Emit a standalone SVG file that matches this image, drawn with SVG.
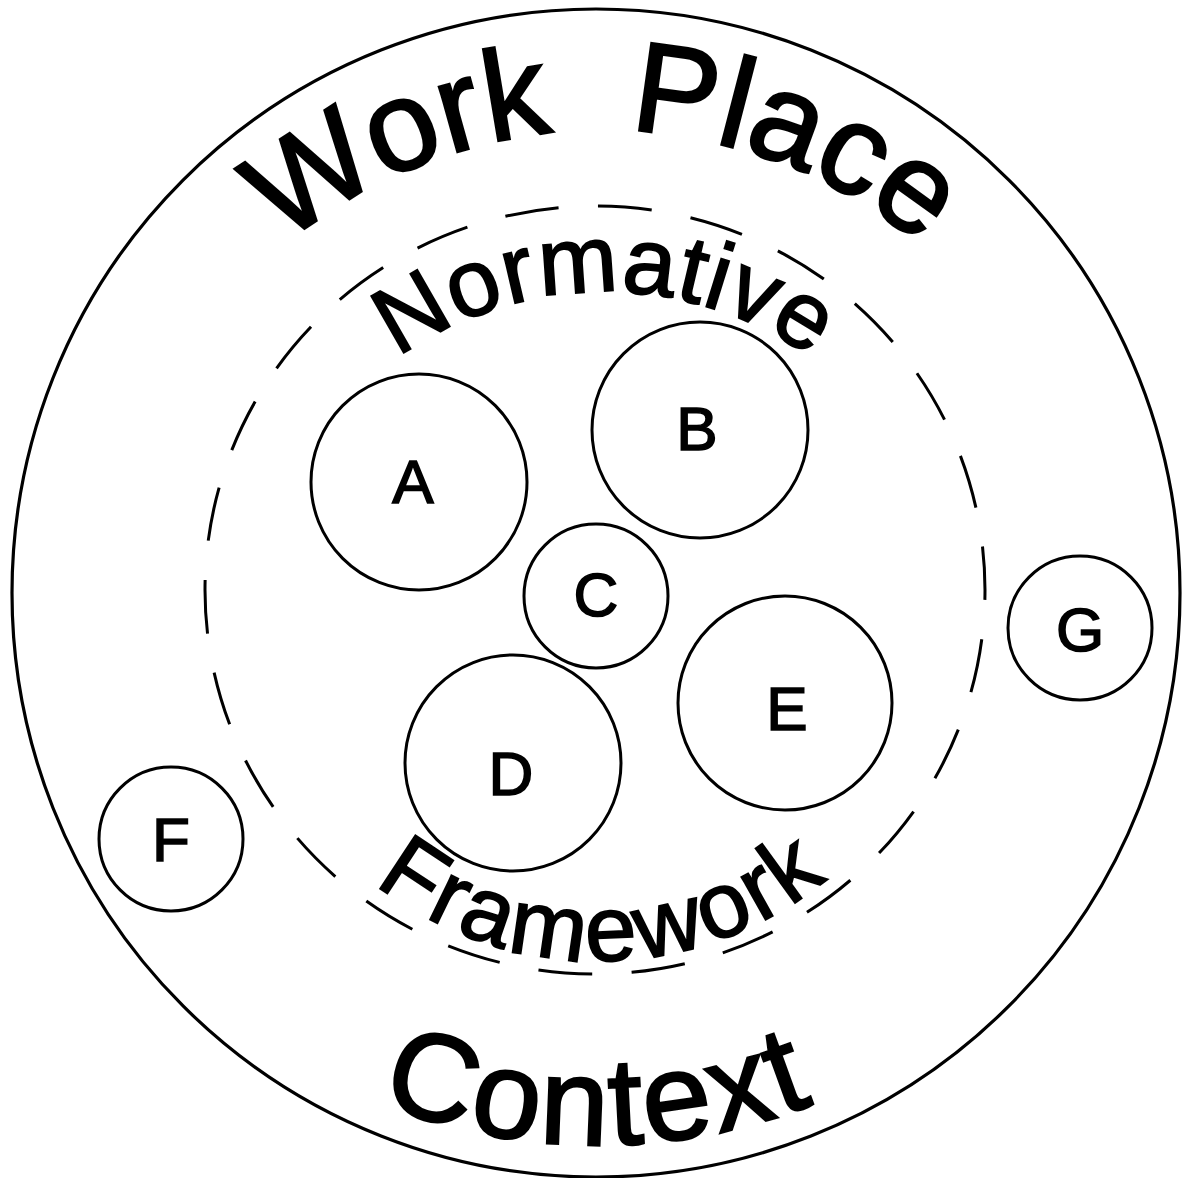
<svg xmlns="http://www.w3.org/2000/svg" width="1186" height="1178" viewBox="0 0 1186 1178">
<style>
.ring{fill:none;stroke:#000;stroke-width:3.2}
.node{fill:none;stroke:#000;stroke-width:3}
.lbl{font-family:"Liberation Sans",Arial,sans-serif;font-size:62px;fill:#000;stroke:#000;stroke-width:1.6;text-anchor:middle}
.big{font-family:"Liberation Sans",Arial,sans-serif;fill:#000;stroke:#000}
</style>
<defs>
<path id="pWork" d="M106,627 A497,497 0 0 1 1100,627"/>
<path id="pNorm" d="M248,649 A357,357 0 0 1 962,649"/>
<path id="pFrame" d="M237,600 A361,361 0 0 0 959,600"/>
<path id="pCtx" d="M8,555 A590,590 0 0 0 1188,555"/>
</defs>
<rect width="1186" height="1178" fill="#fff"/>
<g id="workplace">
<circle class="ring" cx="596" cy="593" r="584"/>
<text class="big" font-size="128" stroke-width="2.6" word-spacing="40"><textPath href="#pWork" startOffset="50%" text-anchor="middle">Work Place</textPath></text>
<text class="big" font-size="124" stroke-width="2.4" letter-spacing="3"><textPath href="#pCtx" startOffset="50%" text-anchor="middle">Context</textPath></text>
</g>
<g id="normative">
<ellipse cx="595" cy="590" rx="390" ry="384" fill="none" stroke="#000" stroke-width="3" stroke-dasharray="54 39.5" stroke-dashoffset="44"/>
<text class="big" font-size="95" stroke-width="1.8" letter-spacing="1"><textPath href="#pNorm" startOffset="50%" text-anchor="middle">Normative</textPath></text>
<text class="big" font-size="93" stroke-width="1.8" letter-spacing="3"><textPath href="#pFrame" startOffset="572" text-anchor="middle">Framework</textPath></text>
</g>
<g id="nodeA"><circle class="node" cx="419" cy="482" r="108"/><text class="lbl" x="413" y="503">A</text></g>
<g id="nodeB"><circle class="node" cx="700" cy="430" r="108"/><text class="lbl" x="697" y="450">B</text></g>
<g id="nodeC"><circle class="node" cx="596" cy="596" r="72"/><text class="lbl" x="596" y="616">C</text></g>
<g id="nodeD"><circle class="node" cx="513" cy="763" r="108"/><text class="lbl" x="511" y="795">D</text></g>
<g id="nodeE"><circle class="node" cx="785" cy="703" r="107"/><text class="lbl" x="787" y="730">E</text></g>
<g id="nodeF"><circle class="node" cx="171" cy="839" r="72"/><text class="lbl" x="171" y="861">F</text></g>
<g id="nodeG"><circle class="node" cx="1080" cy="628" r="72"/><text class="lbl" x="1080" y="651">G</text></g>
<g id="connectors"/>
</svg>
